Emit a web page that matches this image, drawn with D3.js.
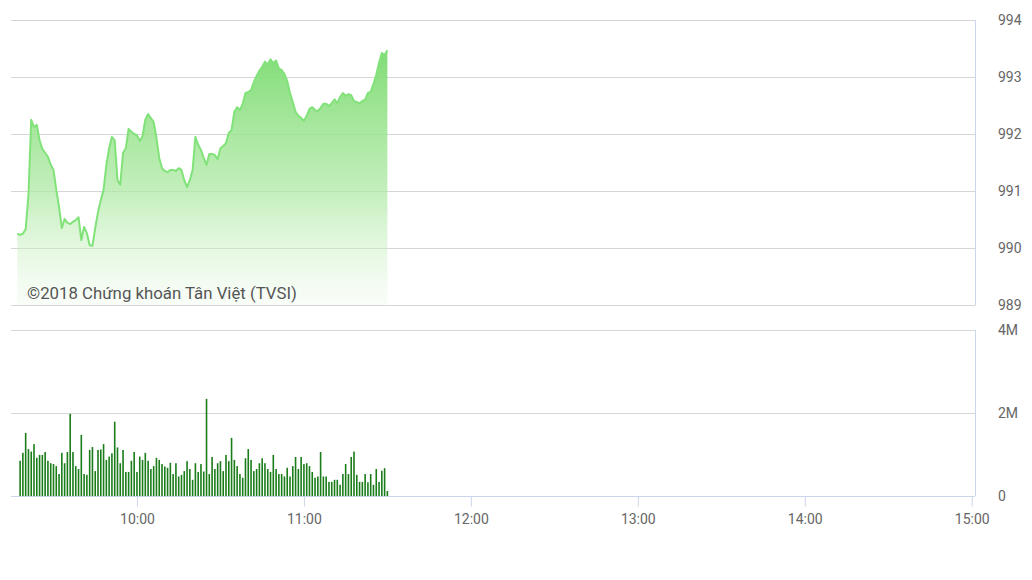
<!DOCTYPE html>
<html>
<head>
<meta charset="utf-8">
<script src="https://cdn.jsdelivr.net/npm/d3@7/dist/d3.min.js"></script>
<style>
  html, body { margin: 0; padding: 0; background: #fff; }
  svg { display: block; font-family: Roboto, "Noto Sans", sans-serif; }
</style>
</head>
<body>
<svg id="chart" width="1032" height="580"></svg>
<script>
// ---------- DATA ----------
// Index value per minute, starting 09:17
const priceStart = "09:17";
const priceValues = [
  990.25, 990.23, 990.25, 990.33, 990.93, 992.25, 992.12, 992.16, 991.89, 991.74,
  991.67, 991.60, 991.46, 991.37, 991.02, 990.72, 990.35, 990.51, 990.44, 990.42,
  990.46, 990.49, 990.54, 990.14, 990.37, 990.26, 990.05, 990.04, 990.35, 990.63,
  990.84, 991.02, 991.46, 991.75, 991.95, 991.89, 991.19, 991.11, 991.67, 991.75,
  992.09, 992.04, 992.00, 991.98, 991.88, 991.96, 992.25, 992.35, 992.28, 992.21,
  991.93, 991.58, 991.40, 991.35, 991.33, 991.37, 991.37, 991.35, 991.40, 991.37,
  991.19, 991.07, 991.19, 991.37, 991.95, 991.81, 991.72, 991.58, 991.46, 991.65,
  991.65, 991.63, 991.56, 991.75, 991.79, 991.84, 992.02, 992.07, 992.39, 992.47,
  992.42, 992.53, 992.72, 992.74, 992.77, 992.91, 993.02, 993.11, 993.18, 993.27,
  993.22, 993.31, 993.24, 993.29, 993.15, 993.12, 993.05, 992.93, 992.72, 992.56,
  992.39, 992.32, 992.28, 992.23, 992.32, 992.44, 992.47, 992.42, 992.40, 992.46,
  992.53, 992.53, 992.49, 992.54, 992.61, 992.54, 992.65, 992.72, 992.67, 992.70,
  992.68, 992.58, 992.56, 992.54, 992.58, 992.60, 992.72, 992.74, 992.88, 993.04,
  993.25, 993.42, 993.39, 993.47
];

// Volume (millions of shares) per minute, starting 09:18
const volumeStart = "09:18";
const volumeValues = [
  0.85, 1.04, 1.52, 1.13, 1.07, 1.25, 0.92, 0.99, 0.99, 1.06,
  0.85, 0.79, 0.77, 0.72, 0.53, 1.04, 0.79, 1.06, 1.98, 1.06,
  0.72, 0.65, 1.47, 0.53, 0.51, 1.11, 1.18, 0.60, 1.11, 1.12,
  1.25, 0.87, 0.95, 1.03, 1.79, 1.17, 0.79, 1.11, 0.58, 0.58,
  0.85, 1.06, 0.58, 0.95, 0.87, 1.04, 0.85, 0.65, 0.72, 0.92,
  0.87, 0.77, 0.71, 0.68, 0.80, 0.53, 0.79, 0.47, 0.51, 0.60,
  0.84, 0.65, 0.39, 0.79, 0.58, 0.77, 0.59, 2.34, 0.53, 0.94,
  0.65, 0.79, 0.84, 0.60, 0.99, 0.84, 1.40, 0.87, 0.72, 0.53,
  0.44, 0.91, 1.13, 0.87, 0.60, 0.65, 0.79, 0.91, 0.79, 0.65,
  0.58, 0.99, 0.65, 0.53, 0.53, 0.47, 0.68, 0.47, 0.72, 0.94,
  0.65, 0.94, 0.77, 0.79, 0.72, 0.58, 0.44, 0.47, 1.06, 0.47,
  0.47, 0.34, 0.34, 0.39, 0.39, 0.27, 0.53, 0.77, 0.53, 0.94,
  1.07, 0.51, 0.34, 0.34, 0.53, 0.33, 0.53, 0.27, 0.65, 0.34,
  0.61, 0.67, 0.12
];

const priceTicks = [989, 990, 991, 992, 993, 994];
const volumeTicks = [0, 2, 4];
const volumeTickLabels = ["0", "2M", "4M"];
const timeTicks = ["10:00", "11:00", "12:00", "13:00", "14:00", "15:00"];
const sessionStart = "09:15";
const sessionEnd = "15:01";
const watermark = "©2018 Chứng khoán Tân Việt (TVSI)";

// ---------- HELPERS ----------
const parseT = s => { const [h, m] = s.split(":").map(Number); return new Date(2018, 0, 1, h, m); };
const addMin = (s, i) => { const d = parseT(s); d.setMinutes(d.getMinutes() + i); return d; };

const priceData = priceValues.map((v, i) => ({ t: addMin(priceStart, i), v }));
const volumeData = volumeValues.map((v, i) => ({ t: addMin(volumeStart, i), v }));

// ---------- SCALES ----------
const svg = d3.select("#chart");
const x = d3.scaleTime().domain([parseT(sessionStart), parseT(sessionEnd)]).range([11.75, 974.5]);
const yP = d3.scaleLinear().domain([989, 994]).range([305, 20]);
const yV = d3.scaleLinear().domain([0, 4]).range([496, 330]);
const left = 11, right = 975;

const gridColor = "#d6d6d6";
const axisColor = "#ccd6eb";
const labelColor = "#666666";

// ---------- PRICE PANEL ----------
const gP = svg.append("g");
gP.selectAll("line.grid").data(priceTicks).join("line")
  .attr("x1", left).attr("x2", right)
  .attr("y1", d => Math.round(yP(d)) + 0.5).attr("y2", d => Math.round(yP(d)) + 0.5)
  .attr("stroke", gridColor).attr("stroke-width", 1);

gP.append("line")
  .attr("x1", right + 0.5).attr("x2", right + 0.5)
  .attr("y1", yP(994)).attr("y2", yP(989) + 0.5)
  .attr("stroke", axisColor).attr("stroke-width", 1);

const defs = svg.append("defs");
const grad = defs.append("linearGradient").attr("id", "areaGrad")
  .attr("gradientUnits", "userSpaceOnUse")
  .attr("x1", 0).attr("x2", 0).attr("y1", yP(993.5)).attr("y2", yP(989));
grad.append("stop").attr("offset", 0).attr("stop-color", "#7fdc74").attr("stop-opacity", 1);
grad.append("stop").attr("offset", 0.55).attr("stop-color", "#aee9a4").attr("stop-opacity", 0.75);
grad.append("stop").attr("offset", 1).attr("stop-color", "#d8f4d2").attr("stop-opacity", 0.15);

const area = d3.area().x(d => x(d.t)).y0(yP(989)).y1(d => yP(d.v)).curve(d3.curveLinear);
const line = d3.line().x(d => x(d.t)).y(d => yP(d.v)).curve(d3.curveLinear);

gP.append("path").datum(priceData).attr("d", area).attr("fill", "url(#areaGrad)");
gP.append("path").datum(priceData).attr("d", line)
  .attr("fill", "none").attr("stroke", "#82e27a").attr("stroke-width", 2)
  .attr("stroke-linejoin", "round");

gP.append("text").attr("x", 27).attr("y", 299)
  .attr("font-size", 16.8).attr("fill", "#555555").text(watermark);

gP.selectAll("text.plab").data(priceTicks).join("text")
  .attr("class", "plab")
  .attr("x", 998).attr("y", d => yP(d) + 5)
  .attr("font-size", 14).attr("fill", labelColor).text(d => d);

// ---------- VOLUME PANEL ----------
const gV = svg.append("g");
gV.selectAll("line.vgrid").data(volumeTicks.filter(d => d > 0)).join("line")
  .attr("x1", left).attr("x2", right)
  .attr("y1", d => Math.round(yV(d)) + 0.5).attr("y2", d => Math.round(yV(d)) + 0.5)
  .attr("stroke", gridColor).attr("stroke-width", 1);

gV.append("line")
  .attr("x1", right + 0.5).attr("x2", right + 0.5)
  .attr("y1", yV(4)).attr("y2", yV(0))
  .attr("stroke", axisColor).attr("stroke-width", 1);

gV.selectAll("rect.bar").data(volumeData).join("rect")
  .attr("x", d => x(d.t) - 0.8).attr("width", 1.6)
  .attr("y", d => yV(d.v)).attr("height", d => yV(0) - yV(d.v))
  .attr("fill", "#1a7d1a");

// bottom time axis
const xAxis = d3.axisBottom(x)
  .tickValues(timeTicks.map(parseT))
  .tickFormat(d3.timeFormat("%H:%M"))
  .tickSize(10).tickPadding(8);
const gX = svg.append("g").attr("transform", `translate(0,${Math.round(yV(0)) + 0.5})`).call(xAxis);
gX.select(".domain").attr("d", `M${left},0H${right}`).attr("stroke", axisColor);
gX.selectAll(".tick line").attr("stroke", axisColor);
gX.selectAll(".tick text").attr("fill", labelColor).attr("font-size", 14)
  .attr("font-family", "Roboto, 'Noto Sans', sans-serif");

gV.selectAll("text.vlab").data(volumeTicks).join("text")
  .attr("class", "vlab")
  .attr("x", 998).attr("y", d => yV(d) + 5)
  .attr("font-size", 14).attr("fill", labelColor)
  .text((d, i) => volumeTickLabels[i]);
</script>
</body>
</html>
